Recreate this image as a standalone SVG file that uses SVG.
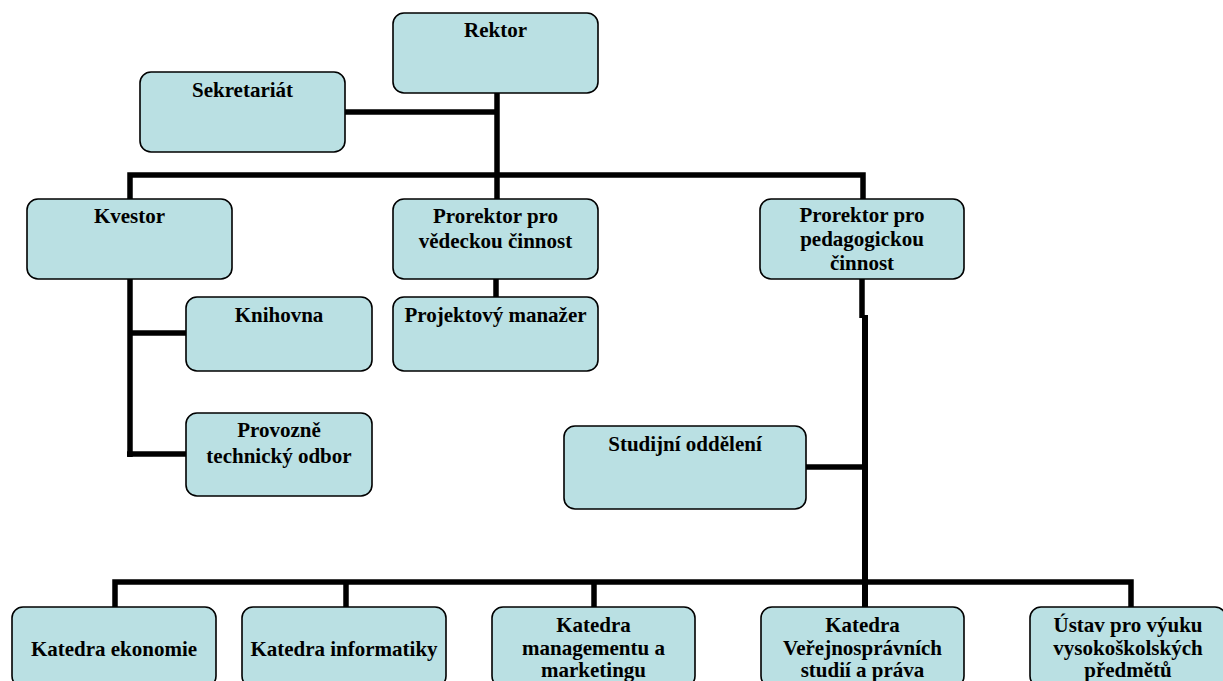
<svg xmlns="http://www.w3.org/2000/svg" width="1223" height="681" viewBox="0 0 1223 681">
<style>
.box{fill:#BAE0E3;stroke:#000;stroke-width:1.6}
.t{font-family:"Liberation Serif","Times New Roman","DejaVu Serif",serif;font-weight:bold;font-size:21px;fill:#000;text-anchor:middle}
.c{stroke:#000;stroke-width:5.5;fill:none;stroke-linecap:butt}
</style>
<rect width="1223" height="681" fill="#fff"/>
<g id="connectors">
<line class="c" x1="497" y1="93" x2="497" y2="199"/>
<line class="c" x1="345" y1="112" x2="497" y2="112"/>
<polyline class="c" points="130,199 130,175 863,175 863,199"/>
<line class="c" x1="130" y1="279" x2="130" y2="457"/>
<line class="c" x1="130" y1="333" x2="186" y2="333"/>
<line class="c" x1="127" y1="454" x2="186" y2="454"/>
<line class="c" x1="496" y1="279" x2="496" y2="297"/>
<line class="c" x1="862" y1="279" x2="862" y2="318"/>
<line class="c" x1="865" y1="315" x2="865" y2="607" style="stroke-width:6"/>
<line class="c" x1="806" y1="467" x2="865" y2="467"/>
<polyline class="c" points="115,607 115,582 1131,582 1131,607"/>
<line class="c" x1="346" y1="582" x2="346" y2="607"/>
<line class="c" x1="594" y1="582" x2="594" y2="607"/>
</g>
<g id="rektor"><rect class="box" x="393" y="13" width="205" height="80" rx="11"/><text class="t" x="495.5" y="37">Rektor</text></g>
<g id="sekretariat"><rect class="box" x="140" y="72" width="205" height="80" rx="11"/><text class="t" x="242.5" y="97">Sekretariát</text></g>
<g id="kvestor"><rect class="box" x="27" y="199" width="205" height="80" rx="11"/><text class="t" x="129.5" y="223">Kvestor</text></g>
<g id="prorektor-vedecka"><rect class="box" x="393" y="199" width="205" height="80" rx="11"/><text class="t" x="495.5" y="223">Prorektor pro</text><text class="t" x="495.5" y="248">vědeckou činnost</text></g>
<g id="prorektor-pedagogicka"><rect class="box" x="760" y="199" width="204" height="80" rx="11"/><text class="t" x="862" y="222">Prorektor pro</text><text class="t" x="862" y="246">pedagogickou</text><text class="t" x="862" y="270">činnost</text></g>
<g id="knihovna"><rect class="box" x="186" y="297" width="186" height="74" rx="11"/><text class="t" x="279" y="322">Knihovna</text></g>
<g id="projektovy-manazer"><rect class="box" x="393" y="297" width="205" height="74" rx="11"/><text class="t" x="495.5" y="322">Projektový manažer</text></g>
<g id="provozne-technicky"><rect class="box" x="186" y="413" width="186" height="83" rx="11"/><text class="t" x="279" y="437">Provozně</text><text class="t" x="279" y="463">technický odbor</text></g>
<g id="studijni-oddeleni"><rect class="box" x="564" y="426" width="242" height="83" rx="11"/><text class="t" x="685" y="451">Studijní oddělení</text></g>
<g id="katedra-ekonomie"><rect class="box" x="12" y="607" width="204" height="80" rx="11"/><text class="t" x="114" y="656">Katedra ekonomie</text></g>
<g id="katedra-informatiky"><rect class="box" x="242" y="607" width="204" height="80" rx="11"/><text class="t" x="344" y="656">Katedra informatiky</text></g>
<g id="katedra-managementu"><rect class="box" x="492" y="607" width="203" height="80" rx="11"/><text class="t" x="593.5" y="632">Katedra</text><text class="t" x="593.5" y="655">managementu a</text><text class="t" x="593.5" y="677">marketingu</text></g>
<g id="katedra-verejnospravnich"><rect class="box" x="761" y="607" width="203" height="80" rx="11"/><text class="t" x="862.5" y="632">Katedra</text><text class="t" x="862.5" y="655">Veřejnosprávních</text><text class="t" x="862.5" y="677">studií a práva</text></g>
<g id="ustav"><rect class="box" x="1030" y="607" width="196" height="80" rx="11"/><text class="t" x="1128" y="632">Ústav pro výuku</text><text class="t" x="1128" y="655">vysokoškolských</text><text class="t" x="1128" y="677">předmětů</text></g>
</svg>
